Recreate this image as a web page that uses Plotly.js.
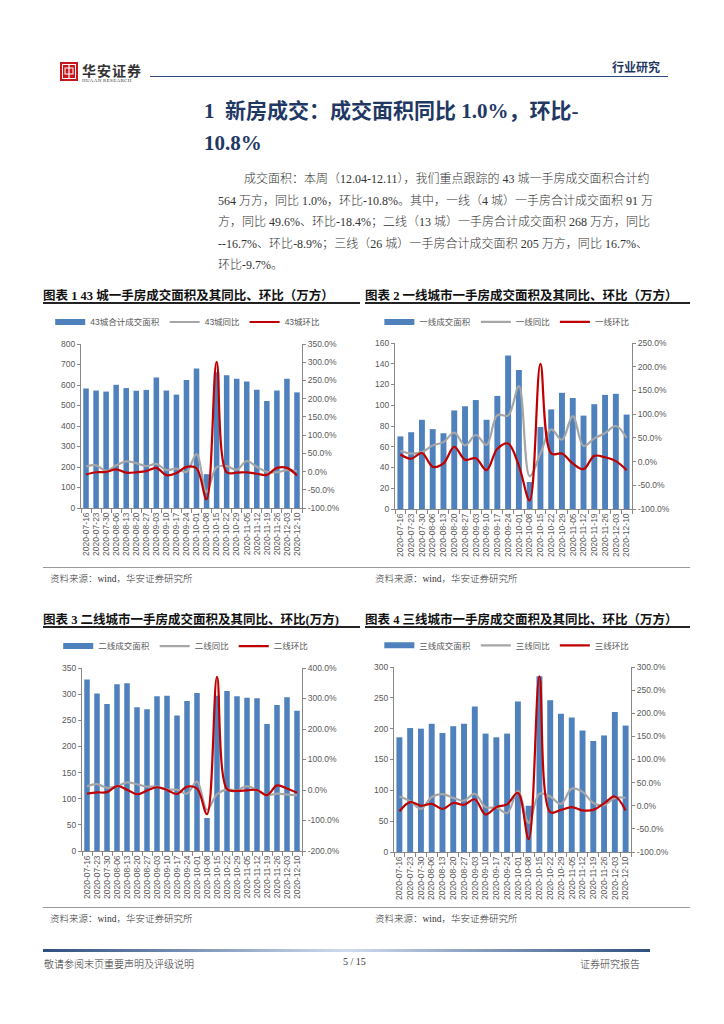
<!DOCTYPE html>
<html><head><meta charset="utf-8">
<script src="https://cdn.plot.ly/plotly-3.0.1.min.js"></script>
<style>
html,body{margin:0;padding:0;background:#fff;}
body{width:724px;height:1024px;position:relative;overflow:hidden;font-family:"Liberation Serif","Noto Sans CJK SC",serif;}
.abs{position:absolute;}
.ctitle{position:absolute;font-family:"Liberation Serif","Noto Sans CJK SC";font-weight:bold;font-size:12.5px;color:#111;white-space:nowrap;}
.uline{position:absolute;height:1.5px;background:#222;}
.srcline{position:absolute;height:1px;background:#999;}
.src{position:absolute;font-size:9.5px;color:#333;white-space:nowrap;font-weight:300;}
.para div{height:21.5px;line-height:21.5px;text-align:justify;text-align-last:justify;white-space:nowrap;}
.chart{position:absolute;}
</style></head>
<body>
<!-- header -->
<svg class="abs" style="left:60px;top:62px" width="18" height="19" viewBox="0 0 18 19">
<rect x="0" y="0" width="18" height="19" fill="#c8161d"/>
<rect x="2.5" y="2.5" width="13" height="14" fill="none" stroke="#fff" stroke-width="1"/>
<rect x="5" y="6" width="8" height="6" fill="none" stroke="#fff" stroke-width="1"/>
<line x1="9" y1="3" x2="9" y2="16" stroke="#fff" stroke-width="1.2"/>
</svg>
<div class="abs" style="left:82px;top:60px;font-family:'Noto Sans CJK SC';font-weight:bold;font-size:14px;color:#333;letter-spacing:1px;">华安证券</div>
<div class="abs" style="left:82px;top:78px;font-family:'Liberation Serif';font-size:5px;color:#333;letter-spacing:0.3px;">HUAAN RESEARCH</div>
<div class="abs" style="left:150px;top:76px;width:518px;height:1.2px;background:#2b4a7a;"></div>
<div class="abs" style="left:612px;top:58px;font-family:'Noto Sans CJK SC';font-weight:bold;font-size:12px;color:#1f3864;">行业研究</div>

<!-- section title -->
<div class="abs" style="left:204px;top:94px;font-family:'Liberation Serif','Noto Sans CJK SC';font-weight:bold;font-size:21px;color:#1f3864;white-space:nowrap;">1&nbsp; 新房成交：成交面积同比 1.0%，环比-</div>
<div class="abs" style="left:204px;top:131px;font-family:'Liberation Serif','Noto Sans CJK SC';font-weight:bold;font-size:21px;color:#1f3864;">10.8%</div>

<!-- paragraph -->
<div class="abs para" style="left:218px;top:169px;width:430px;font-size:12px;color:#333;font-weight:300;">
<div style="margin-left:26px;">成交面积：本周（12.04-12.11），我们重点跟踪的 43 城一手房成交面积合计约</div>
<div>564 万方，同比 1.0%，环比-10.8%。其中，一线（4 城）一手房合计成交面积 91 万</div>
<div>方，同比 49.6%、环比-18.4%；二线（13 城）一手房合计成交面积 268 万方，同比</div>
<div>--16.7%、环比-8.9%；三线（26 城）一手房合计成交面积 205 万方，同比 16.7%、</div>
<div style="text-align-last:left;">环比-9.7%。</div>
</div>

<!-- chart titles row 1 -->
<div class="ctitle" style="left:43px;top:285px;">图表 1 43 城一手房成交面积及其同比、环比（万方）</div>
<div class="uline" style="left:43px;top:302px;width:317px;"></div>
<div class="ctitle" style="left:365px;top:285px;">图表 2 一线城市一手房成交面积及其同比、环比（万方）</div>
<div class="uline" style="left:365px;top:302px;width:325px;"></div>

<div id="c1" class="chart" style="left:40px;top:305px;width:325px;height:260px;"></div>
<div id="c2" class="chart" style="left:365px;top:305px;width:330px;height:260px;"></div>

<div class="srcline" style="left:43px;top:567px;width:647px;"></div>
<div class="src" style="left:50px;top:571px;">资料来源：wind，华安证券研究所</div>
<div class="src" style="left:375px;top:571px;">资料来源：wind，华安证券研究所</div>

<!-- chart titles row 2 -->
<div class="ctitle" style="left:43px;top:609px;">图表 3 二线城市一手房成交面积及其同比、环比(万方)</div>
<div class="uline" style="left:43px;top:626px;width:317px;"></div>
<div class="ctitle" style="left:365px;top:609px;">图表 4 三线城市一手房成交面积及其同比、环比（万方）</div>
<div class="uline" style="left:365px;top:626px;width:325px;"></div>

<div id="c3" class="chart" style="left:40px;top:630px;width:325px;height:275px;"></div>
<div id="c4" class="chart" style="left:365px;top:630px;width:330px;height:275px;"></div>

<div class="srcline" style="left:43px;top:907px;width:647px;"></div>
<div class="src" style="left:50px;top:911px;">资料来源：wind，华安证券研究所</div>
<div class="src" style="left:375px;top:911px;">资料来源：wind，华安证券研究所</div>

<!-- footer -->
<div class="abs" style="left:43px;top:949px;width:607px;height:3px;background:linear-gradient(to right,#2d4e80,#cfdcee 50%,#2d4e80);"></div>
<div class="src" style="left:44px;top:956px;font-size:10px;">敬请参阅末页重要声明及评级说明</div>
<div class="src" style="left:343px;top:956px;font-size:10px;">5 / 15</div>
<div class="src" style="left:580px;top:956px;font-size:10px;">证券研究报告</div>

<script>
var dates = ['2020-07-16','2020-07-23','2020-07-30','2020-08-06','2020-08-13','2020-08-20','2020-08-27','2020-09-03','2020-09-10','2020-09-17','2020-09-24','2020-10-01','2020-10-08','2020-10-15','2020-10-22','2020-10-29','2020-11-05','2020-11-12','2020-11-19','2020-11-26','2020-12-03','2020-12-10'];

// 43 cities
var c43Area = [583,573,568,601,585,572,576,636,573,553,625,680,165,662,648,630,617,577,522,573,631,564];
var c43Yoy  = [14,17,2,17,28,23,15,21,4,8,-1,48,-56,12,15,5,29,13,-1,-2,4,1];
var c43Mom  = [-8,-2,-1,6,-3,-2,1,10,-10,-4,13,9,-76,301,-2,-3,-2,-6,-9,10,10,-11];

// tier 1
var t1Area = [70,74,86,77,73,95,99,105,86,109,148,134,26,79,96,112,107,90,101,110,111,91];
var t1Yoy  = [23,17,20,34,41,61,34,56,35,98,97,159,-31,17,68,46,96,33,49,60,75,50];
var t1Mom  = [15,6,18,-11,-4,31,4,7,-18,27,38,-9,-82,206,17,17,-4,-16,12,9,1,-18];

// tier 2
var t2Area = [328,301,281,319,321,275,271,296,297,259,287,302,63,297,306,296,293,292,243,279,294,268];
var t2Yoy  = [12,19,7,12,25,19,11,11,1,1,-12,28,-65,-14,2,-1,13,-1,-17,-12,-15,-17];
var t2Mom  = [-12,-8,-7,13,1,-14,-2,9,0,-13,11,5,-79,371,3,-3,-1,0,-17,15,5,-9];

// tier 3
var t3Area = [186,201,200,208,193,204,208,236,192,186,192,244,75,285,246,224,218,197,180,189,227,205];
var t3Yoy  = [20,10,-7,19,25,17,11,26,-3,-4,-16,32,-37,26,20,4,37,30,6,1,17,17];
var t3Mom  = [-12,8,0,4,-7,6,2,14,-19,-3,3,28,-72,280,-14,-9,-3,-10,-9,5,20,-10];

var charts = [
  {id:'c1', names:['43城合计成交面积','43城同比','43城环比'], area:c43Area, yoy:c43Yoy, mom:c43Mom,
   left:[0,800,100], right:[-100,350,50], m:{l:41,r:63,t:39,b:57}, ly:1.134, lx:1.105},
  {id:'c2', names:['一线成交面积','一线同比','一线环比'], area:t1Area, yoy:t1Yoy, mom:t1Mom,
   left:[0,160,20], right:[-100,250,50], m:{l:30,r:63,t:38,b:56}, ly:1.127, lx:1.01},
  {id:'c3', names:['二线成交面积','二线同比','二线环比'], area:t2Area, yoy:t2Yoy, mom:t2Mom,
   left:[0,350,50], right:[-200,400,100], m:{l:42,r:63,t:38,b:54}, ly:1.12, lx:1.051},
  {id:'c4', names:['三线成交面积','三线同比','三线环比'], area:t3Area, yoy:t3Yoy, mom:t3Mom,
   left:[0,300,50], right:[-100,300,50], m:{l:29,r:64,t:37,b:53}, ly:1.117, lx:1.014}
];

function seq(a,b,s){var r=[];for(var v=a;v<=b+1e-9;v+=s)r.push(v);return r;}
var fnt = {family:'"Liberation Sans","Noto Sans CJK SC",Arial,sans-serif', size:8.5, color:'#595959'};
var axc = '#888888';
var barColor = '#4f81bd';

charts.forEach(function(c){
  var rv = seq(c.right[0],c.right[1],c.right[2]);
  var lv = seq(c.left[0],c.left[1],c.left[2]);
  var el = document.getElementById(c.id);
  var traces = [
    {type:'bar', x:dates, y:c.area, name:c.names[0], marker:{color:barColor, line:{width:0}}, yaxis:'y', showlegend:false},
    // legend key for the bar series (wide swatch as in the reference)
    {type:'scatter', mode:'lines', x:[dates[0]], y:[null], name:c.names[0], line:{color:barColor, width:6}, yaxis:'y', hoverinfo:'skip'},
    {type:'scatter', mode:'lines', x:dates, y:c.yoy, name:c.names[1], line:{color:'#a6a6a6', width:2.2, shape:'spline', smoothing:1}, yaxis:'y2'},
    {type:'scatter', mode:'lines', x:dates, y:c.mom, name:c.names[2], line:{color:'#c00000', width:2.2, shape:'spline', smoothing:1}, yaxis:'y2'}
  ];
  var m = Object.assign({autoexpand:false, pad:0}, c.m);
  var layout = {
    width: el.offsetWidth, height: el.offsetHeight,
    margin:m, paper_bgcolor:'rgba(0,0,0,0)', plot_bgcolor:'rgba(0,0,0,0)',
    font:fnt, showlegend:true, bargap:0.45,
    legend:{orientation:'h', x:c.lx, xanchor:'right', y:c.ly, yanchor:'middle', font:{family:fnt.family,size:8.5,color:'#595959'}, itemwidth:30, tracegroupgap:0, bgcolor:'rgba(0,0,0,0)'},
    xaxis:{type:'category', tickmode:'array', tickvals:dates, ticktext:dates, tickangle:-90, showline:true, linecolor:axc, linewidth:1, ticks:'outside', tickson:'boundaries', ticklen:4, tickcolor:axc, showgrid:false, zeroline:false, tickfont:{size:8.5,color:'#595959'}, automargin:false},
    yaxis:{range:[c.left[0],c.left[1]], tickmode:'array', tickvals:lv, ticktext:lv.map(String), showline:true, linecolor:axc, ticks:'outside', ticklen:3, tickcolor:axc, showgrid:false, zeroline:false, tickfont:{size:8.5,color:'#595959'}, automargin:false},
    yaxis2:{range:[c.right[0],c.right[1]], overlaying:'y', side:'right', tickmode:'array', tickvals:rv, ticktext:rv.map(function(v){return v.toFixed(1)+'%';}), showline:true, linecolor:axc, ticks:'outside', ticklen:3, tickcolor:axc, showgrid:false, zeroline:false, tickfont:{size:8.5,color:'#595959'}, automargin:false}
  };
  Plotly.newPlot(c.id, traces, layout, {displayModeBar:false, staticPlot:true});
});
</script>
</body></html>
